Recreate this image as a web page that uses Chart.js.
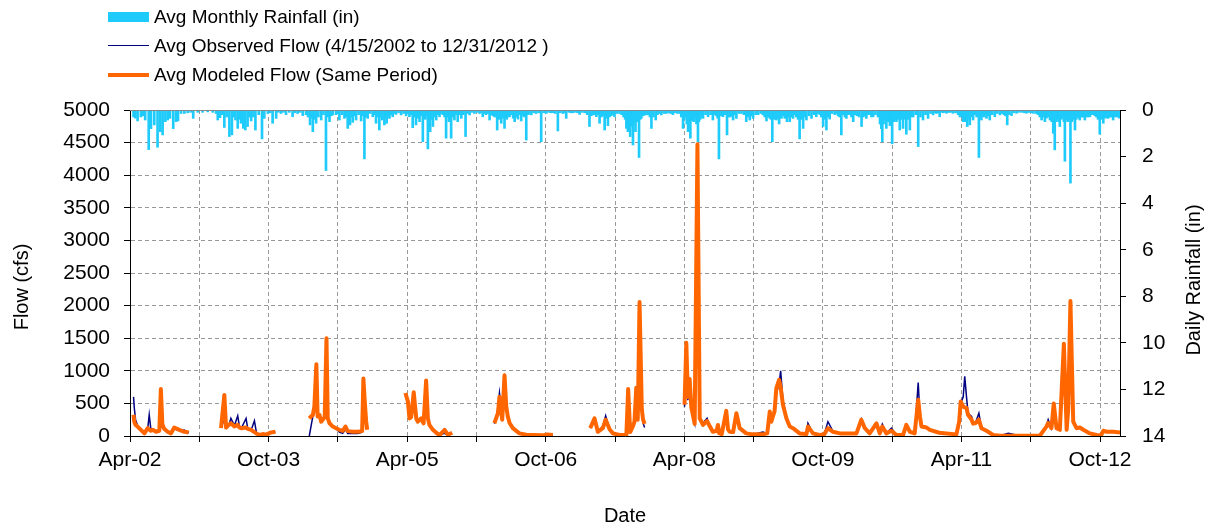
<!DOCTYPE html>
<html>
<head>
<meta charset="utf-8">
<script src="https://cdn.jsdelivr.net/npm/chart.js@4/dist/chart.umd.min.js"></script>
<style>
  body { margin: 0; background: #fff; }
  #wrap { position: relative; width: 1212px; height: 531px; }
  #legend { position: absolute; left: 108px; top: 2px; font-family: 'Liberation Sans', Arial, sans-serif; font-size: 19px; color: #000; }
  .row { height: 29px; display: flex; align-items: center; }
  .sym { width: 41px; margin-right: 5px; }
</style>
</head>
<body>
<div id="wrap">
  <canvas id="chart" width="1212" height="531"></canvas>
  <div id="legend"></div>
</div>
<script>
// x軸は 2002/4/1 からの経過日数
const xTickStep = 274; // 9か月ごとに目盛り
const xTickLabels = ['Apr-02', 'Oct-03', 'Apr-05', 'Oct-06', 'Apr-08', 'Oct-09', 'Apr-11', 'Oct-12'];

// 流量（null = 欠測）
const flowDays = [
  14, 17, 22, 30, 43, 57, 70, 76, 82, 90, 103, 116, 122, 128, 135, 149, 162, 175, 195, 215, 225, 232, 296,
  360, 373, 380, 390, 399, 413, 426, 433, 439, 459, 466, 479, 492, 500, 512, 525, 538, 558, 575, 640,
  709, 716, 723, 729, 737, 742, 749, 756, 762, 770, 777, 782, 789, 802, 815, 828, 841, 852, 861, 881, 901, 918, 923, 928, 934, 938, 1000,
  1089, 1099, 1105, 1112, 1122, 1132, 1138, 1151, 1161, 1171, 1178, 1184, 1198, 1211, 1224, 1244, 1257, 1274, 1350,
  1441, 1455, 1461, 1472, 1481, 1488, 1494, 1501, 1514, 1540, 1567, 1593, 1633, 1650, 1672, 1750,
  1820, 1837, 1850, 1870, 1881, 1897, 1910, 1936, 1963, 1970, 1978, 1989, 1995, 2002, 2008, 2015, 2024, 2029, 2035, 2110,
  2193, 2200, 2206, 2213, 2220, 2233, 2244, 2253, 2266, 2282, 2290, 2305, 2320, 2325, 2330, 2340, 2358, 2365, 2371, 2385,
  2398, 2411, 2437, 2464, 2503, 2520, 2530, 2536, 2549, 2556, 2567, 2573, 2582, 2596, 2609, 2622, 2648, 2675, 2681, 2701,
  2727, 2745, 2760, 2780, 2807, 2846, 2873, 2892, 2906, 2925, 2952, 2965, 2975, 2991, 3011, 3031, 3057, 3070, 3084, 3103,
  3117, 3124, 3130, 3150, 3163, 3200, 3229, 3268, 3279, 3285, 3295, 3301, 3308, 3314, 3328, 3334, 3345, 3357, 3367, 3387,
  3413, 3440, 3473, 3519, 3598, 3624, 3631, 3644, 3653, 3664, 3677, 3693, 3704, 3710, 3719, 3730, 3743, 3756, 3770, 3796,
  3822, 3840, 3849, 3862, 3888, 3915
];
const modeledFlow = [
  325, 220, 170, 145, 95, 40, 120, 100, 80, 95, 65, 80, 720, 180, 110, 65, 40, 130, 95, 65, 60, 50, null,
  120, 630, 130, 170, 195, 145, 170, 130, 120, 130, 110, 95, 60, 40, 15, 30, 20, 55, 65, null,
  270, 300, 320, 450, 1100, 300, 325, 220, 250, 290, 1500, 270, 195, 145, 120, 95, 80, 145, 75, 65, 65, 75, 880, 550, 220, 95, null,
  660, 530, 270, 290, 670, 270, 220, 270, 195, 850, 270, 170, 95, 50, 15, 95, 20, 50, null,
  195, 350, 600, 250, 930, 450, 300, 200, 120, 40, 20, 15, 10, 25, 15, null,
  120, 270, 65, 120, 250, 100, 40, 15, 20, 720, 60, 150, 220, 740, 250, 2056, 410, 250, 185, null,
  480, 1430, 600, 875, 435, 185, 4475, 270, 170, 230, 170, 65, 80, 170, 40, 30, 385, 100, 65, 60,
  350, 120, 40, 25, 25, 40, 375, 220, 380, 735, 860, 750, 480, 270, 145, 120, 40, 30, 145, 40,
  15, 25, 120, 65, 40, 40, 40, 250, 120, 40, 195, 40, 145, 40, 80, 15, 15, 170, 65, 40,
  555, 300, 145, 130, 95, 50, 40, 25, 220, 530, 450, 440, 430, 325, 250, 190, 200, 250, 120, 80,
  15, 5, 5, 5, 5, 145, 200, 120, 500, 120, 95, 1415, 95, 400, 2070, 220, 120, 130, 95, 40,
  15, 10, 80, 65, 65, 55
];
const observedFlow = [
  600, 430, 250, 160, 110, 60, 110, 325, 120, 90, 60, 70, 300, 150, 100, 50, 40, 110, 80, 90, 60, 45, null,
  140, 250, 200, 150, 270, 160, 310, 140, 110, 270, 100, 90, 235, 50, 20, 30, 25, 50, 60, null,
  0, 150, 300, 350, 500, 320, 300, 240, 250, 280, 600, 300, 200, 140, 110, 60, 40, 100, 40, 40, 40, 60, 400, 300, 200, 150, null,
  620, 500, 280, 300, 500, 300, 230, 250, 200, 550, 300, 180, 90, 40, 15, 40, 20, 30, null,
  190, 420, 660, 300, 500, 480, 330, 220, 130, 40, 20, 15, 10, 20, 10, null,
  120, 250, 70, 150, 310, 100, 40, 15, 20, 300, 80, 150, 200, 400, 250, 1200, 400, 200, 130, null,
  450, 1300, 550, 800, 400, 200, 3000, 280, 200, 270, 160, 70, 80, 120, 40, 30, 300, 90, 60, 50,
  280, 110, 40, 25, 60, 40, 300, 250, 400, 650, 800, 1000, 550, 300, 160, 120, 40, 30, 195, 40,
  15, 25, 220, 70, 40, 40, 40, 260, 120, 40, 180, 50, 180, 40, 120, 15, 15, 150, 60, 40,
  820, 300, 150, 120, 90, 50, 40, 25, 200, 500, 600, 915, 600, 350, 300, 200, 220, 350, 130, 80,
  15, 5, 40, 5, 5, 150, 250, 120, 400, 130, 100, 900, 150, 350, 1200, 250, 130, 140, 100, 40,
  15, 10, 70, 60, 60, 50
];

// 日降水量（in）
const rainDay = [
  14, 21, 30, 43, 52, 60, 74, 83, 96, 109, 120, 129, 140, 149, 158, 171, 182, 190, 202, 215, 228, 240, 250, 268, 287,
  307, 327, 340, 347, 356, 365, 373, 382, 393, 403, 410, 417, 426, 432, 439, 448, 456, 465, 472, 479, 488, 496, 509, 522, 531,
  545, 555, 564, 578, 587, 597, 607, 617, 630, 643, 653, 663, 673, 683, 696, 704, 712, 718, 723, 730, 736, 745, 756, 765, 775,
  782, 789, 796, 802, 815, 822, 828, 838, 848, 855, 861, 870, 876, 881, 888, 894, 904, 914, 920, 927, 933, 940, 950, 960, 966,
  973, 980, 986, 992, 997, 1006, 1011, 1015, 1021, 1026, 1033, 1039, 1046, 1052, 1062, 1072, 1082, 1092, 1098, 1105, 1112, 1118, 1125, 1131, 1138,
  1145, 1151, 1158, 1163, 1168, 1173, 1178, 1183, 1187, 1192, 1198, 1204, 1211, 1217, 1224, 1230, 1237, 1244, 1250, 1255, 1261, 1266, 1270, 1276, 1283,
  1290, 1296, 1303, 1310, 1318, 1327, 1335, 1343, 1352, 1362, 1372, 1382, 1390, 1395, 1402, 1408, 1415, 1422, 1428, 1435, 1442, 1452, 1458,
  1468, 1474, 1481, 1486, 1490, 1495, 1501, 1508, 1515, 1521, 1528, 1534, 1540, 1547, 1553, 1560, 1567, 1575, 1581, 1587, 1596, 1606, 1616, 1626, 1636,
  1646, 1656, 1664, 1672, 1682, 1692, 1702, 1712, 1718, 1725, 1735, 1743, 1752, 1762, 1770, 1778, 1788, 1798, 1808, 1817, 1824, 1831, 1838, 1844, 1850,
  1857, 1864, 1870, 1877, 1884, 1890, 1896, 1903, 1910, 1916, 1926, 1936, 1944, 1952, 1958, 1963, 1969, 1974, 1978, 1984, 1989, 1994, 1999, 2006, 2013,
  2018, 2022, 2030, 2036, 2042, 2050, 2056, 2062, 2070, 2079, 2086, 2094, 2101, 2111, 2121, 2130, 2138, 2147, 2156, 2165, 2174, 2180, 2187, 2192, 2197,
  2202, 2207, 2212, 2216, 2222, 2229, 2235, 2240, 2246, 2250, 2255, 2261, 2266, 2276, 2286, 2296, 2305, 2312, 2319, 2324, 2329, 2336, 2345, 2353, 2361,
  2367, 2374, 2380, 2385, 2392, 2398, 2408, 2418, 2428, 2437, 2444, 2451, 2458, 2464, 2474, 2484, 2494, 2503, 2510, 2517, 2524, 2530, 2535, 2540, 2548,
  2556, 2562, 2567, 2572, 2576, 2583, 2589, 2594, 2598, 2604, 2609, 2616, 2622, 2628, 2635, 2642, 2648, 2655, 2662, 2668, 2675, 2685, 2695, 2705, 2714,
  2720, 2728, 2734, 2741, 2748, 2754, 2760, 2767, 2777, 2787, 2793, 2800, 2806, 2813, 2820, 2827, 2833, 2840, 2846, 2853, 2860, 2867, 2875, 2884, 2893,
  2900, 2906, 2912, 2918, 2925, 2932, 2939, 2948, 2958, 2966, 2971, 2975, 2980, 2986, 2991, 2998, 3005, 3010, 3014, 3020, 3025, 3031, 3038, 3044, 3050,
  3057, 3063, 3070, 3077, 3084, 3090, 3097, 3107, 3117, 3126, 3136, 3146, 3156, 3166, 3176, 3182, 3189, 3196, 3202, 3209, 3216, 3222, 3229, 3236, 3242,
  3249, 3255, 3265, 3275, 3282, 3288, 3295, 3301, 3306, 3311, 3316, 3321, 3327, 3334, 3341, 3348, 3357, 3362, 3367, 3372, 3376, 3382, 3387, 3394, 3400,
  3410, 3420, 3430, 3440, 3448, 3456, 3462, 3469, 3476, 3486, 3496, 3506, 3516, 3526, 3536, 3545, 3552, 3558, 3565, 3572, 3582, 3591, 3598, 3605, 3612,
  3618, 3624, 3631, 3638, 3645, 3651, 3657, 3663, 3668, 3673, 3677, 3682, 3688, 3693, 3697, 3703, 3708, 3713, 3719, 3725, 3730, 3737, 3742, 3747, 3752,
  3756, 3762, 3767, 3772, 3776, 3781, 3785, 3790, 3796, 3803, 3809, 3816, 3822, 3828, 3835, 3842, 3849, 3854, 3858, 3863, 3868, 3873, 3878, 3883, 3888,
  3895, 3901, 3906, 3912
];
const rainIn = [
  .3, .35, .47, .3, .25, .43, 1.7, .8, .64, 1.6, .93, 1.07, .5, .43, .36, .8, .5, .47, .15, .15, .12, .1, .36, .1, .1,
  .08, .1, .15, .43, .33, .2, .75, .3, 1.14, 1.07, .3, .43, .79, .4, .57, .79, .86, .71, .3, .47, .3, .86, .2, 1.24, .36,
  .15, .12, .57, .36, .1, .15, .1, .2, .1, .29, .12, .15, .1, .24, .2, .3, .64, .35, .93, .4, .57, .3, .43, .2, 2.6,
  .3, .5, .25, .21, .2, .15, .43, .2, .36, .3, .79, .64, .3, .53, .25, .43, .2, .47, .25, 2.1, .3, .36, .15, .29, .2,
  .57, .3, .86, .3, .43, .64, .3, .57, .25, .36, .2, .29, .15, .19, .12, .21, .15, .25, .15, .29, .2, .76, .3, .64, .35,
  .5, .25, 1.36, .3, .4, .25, 1.67, .3, .93, .4, .71, .3, .43, .2, .29, .15, .2, .3, 1.21, .3, .5, .25, 1.21, .3, .43,
  .2, .5, .2, .36, .2, 1.14, .15, .21, .1, .15, .1, .15, .12, .29, .15, .2, .15, .43, .2, .25, .3, .86, .4,
  .57, .35, .79, .3, .4, .3, .29, .2, .35, .5, .3, .39, .2, .47, .25, .3, 1.29, .2, .15, .21, .12, .15, .12, 1.36, .12,
  .15, .1, .12, .12, .15, .9, .12, .15, .12, .36, .1, .12, .12, .1, .12, .19, .1, .12, .2, .71, .25, .21, .2, .29, .2,
  .57, .3, .25, .86, .35, .67, .3, .25, .2, .29, .15, .15, .2, .3, .4, .79, .93, .6, 1.14, .7, 1.5, .6, .93, .5, 2.04,
  .4, .36, .25, .2, .21, .2, .3, .79, .3, .43, .2, .15, .21, .15, .15, .12, .15, .2, .12, .15, .15, .3, .79, .4, .29,
  .6, .93, .5, 1.21, .45, .5, .35, .6, 1.36, .5, .4, .3, .36, .2, .29, .2, .43, .2, .25, .35, 2.1, .25, .29, .2, 1.07,
  .3, .3, .25, .43, .2, .36, .15, .15, .2, .5, .3, .43, .25, .36, .2, .2, .15, .21, .3, .47, .3, .36, .4, 1.36, .4,
  .43, .35, .6, .3, .36, .25, .36, .3, .5, .3, .5, .3, .36, .2, .3, .4, 1.24, .4, .79, .3, .43, .25, .36, .2, .29,
  .15, .2, .3, .71, .4, .86, .3, .39, .15, .2, .15, .25, .3, 1.07, .2, .3, .36, .2, .2, .3, .5, .2, .25, .3, .71,
  .3, .25, .36, .2, .2, .3, .29, .2, .3, .6, .8, 1.36, .6, .4, .79, .5, .67, .6, 1.45, .5, .4, .5, .4, .86, .4,
  .79, .4, 1.04, .4, .86, .3, .3, .2, 1.57, .3, .43, .2, .36, .15, .21, .12, .15, .12, .29, .1, .12, .1, .14, .1, .1,
  .1, .14, .12, .2, .3, .29, .5, .5, .4, .71, .4, .64, .3, .43, .2, .3, 2.04, .3, .43, .25, .3, .2, .36, .25, .43,
  .2, .29, .15, .21, .15, .2, .25, .64, .2, .24, .12, .14, .1, .1, .12, .14, .1, .1, .12, .14, .15, .2, .3, .43, .3,
  .5, .35, .3, .43, .5, 1.0, 1.71, .5, .4, .5, .71, .4, .35, .5, 2.2, .4, .5, .4, 3.14, .5, .4, .86, .4, .3, .35,
  .43, .3, .3, .3, .43, .3, .25, .3, .29, .2, .2, .25, .3, .4, 1.04, .4, .57, .3, .35, .3, .36, .3, .3, .3, .43,
  .3, .29, .3, .35
];

const FONT = "'Liberation Sans', Arial, sans-serif";
const toPoints = (xs, ys) => xs.map((d, i) => ({ x: d, y: ys[i] }));

const datasets = [
  {
    type: 'line',
    label: 'Avg Modeled Flow (Same Period)',
    data: toPoints(flowDays, modeledFlow),
    borderColor: '#FF6600',
    borderWidth: 4,
    borderJoinStyle: 'round',
    pointRadius: 0,
    spanGaps: false,
    yAxisID: 'y',
    order: 0,
  },
  {
    type: 'line',
    label: 'Avg Observed Flow (4/15/2002 to 12/31/2012 )',
    data: toPoints(flowDays, observedFlow),
    borderColor: '#000080',
    borderWidth: 1.5,
    pointRadius: 0,
    spanGaps: false,
    yAxisID: 'y',
    order: 1,
  },
  {
    type: 'bar',
    label: 'Avg Monthly Rainfall (in)',
    data: toPoints(rainDay, rainIn),
    backgroundColor: '#1ECBFA',
    borderWidth: 0,
    barThickness: 2,
    yAxisID: 'y1',
    order: 2,
  },
];

// 凡例（HTML）
const legendDiv = document.getElementById('legend');
[datasets[2], datasets[1], datasets[0]].forEach(ds => {
  const row = document.createElement('div');
  row.className = 'row';
  const sym = document.createElement('div');
  sym.className = 'sym';
  if (ds.type === 'bar') {
    sym.style.height = '10px';
    sym.style.background = ds.backgroundColor;
  } else {
    sym.style.height = ds.borderWidth + 'px';
    sym.style.background = ds.borderColor;
  }
  const txt = document.createElement('span');
  txt.textContent = ds.label;
  row.appendChild(sym);
  row.appendChild(txt);
  legendDiv.appendChild(row);
});

// プロット上端の枠線と縦軸タイトル（両方とも下から上へ読む向き）
const frameAndTitles = {
  id: 'frameAndTitles',
  afterDraw(chart) {
    const { ctx, chartArea: a } = chart;
    ctx.save();
    ctx.strokeStyle = '#8a8a8a';
    ctx.lineWidth = 1;
    ctx.beginPath();
    ctx.moveTo(a.left, Math.round(a.top) + 0.5);
    ctx.lineTo(a.right, Math.round(a.top) + 0.5);
    ctx.stroke();

    ctx.fillStyle = '#000';
    ctx.font = '20px ' + FONT;
    ctx.textAlign = 'center';
    ctx.textBaseline = 'middle';
    [['Flow (cfs)', 22, 287], ['Daily Rainfall (in)', 1194, 280]].forEach(([t, x, y]) => {
      ctx.save();
      ctx.translate(x, y);
      ctx.rotate(-Math.PI / 2);
      ctx.fillText(t, 0, 0);
      ctx.restore();
    });
    ctx.restore();
  },
};

const gridColor = '#999999';
const tickFont = { family: FONT, size: 21 };
const titleFont = { family: FONT, size: 20 };

new Chart(document.getElementById('chart'), {
  type: 'line',
  data: { datasets },
  plugins: [frameAndTitles],
  options: {
    responsive: false,
    animation: false,
    layout: { padding: { top: 110, left: 0, right: 0, bottom: 0 } },
    plugins: { legend: { display: false }, tooltip: { enabled: false } },
    scales: {
      x: {
        type: 'linear',
        min: 0,
        max: 3915,
        offset: false,
        afterBuildTicks(scale) {
          const t = [];
          for (let i = 0; i * xTickStep <= 3915; i++) t.push({ value: i * xTickStep });
          scale.ticks = t;
        },
        afterFit(scale) { scale.height = 95; },
        ticks: {
          autoSkip: false,
          maxRotation: 0,
          padding: 6,
          color: '#000',
          font: tickFont,
          callback: (v, i) => (i % 2 === 0 ? xTickLabels[i / 2] : ''),
        },
        grid: { offset: false, color: gridColor, tickColor: '#000', tickLength: 6, tickBorderDash: [] },
        border: { color: '#000', width: 1, dash: [4, 3] },
        title: { display: true, text: 'Date', color: '#000', font: titleFont, padding: { top: 0, bottom: 3 } },
      },
      y: {
        position: 'left',
        min: 0,
        max: 5000,
        afterFit(scale) { scale.width = 130; },
        ticks: { stepSize: 500, padding: 14, color: '#000', font: tickFont, callback: v => String(v) },
        grid: { color: gridColor, tickColor: '#000', tickLength: 6, tickBorderDash: [] },
        border: { color: '#000', width: 1, dash: [4, 3] },
      },
      y1: {
        position: 'right',
        reverse: true,
        min: 0,
        max: 14,
        afterFit(scale) { scale.width = 92; },
        ticks: { stepSize: 2, padding: 16, color: '#000', font: tickFont },
        grid: { drawOnChartArea: false, tickColor: '#000', tickLength: 6 },
        border: { color: '#000', width: 1 },
      },
    },
  },
});
</script>
</body>
</html>
